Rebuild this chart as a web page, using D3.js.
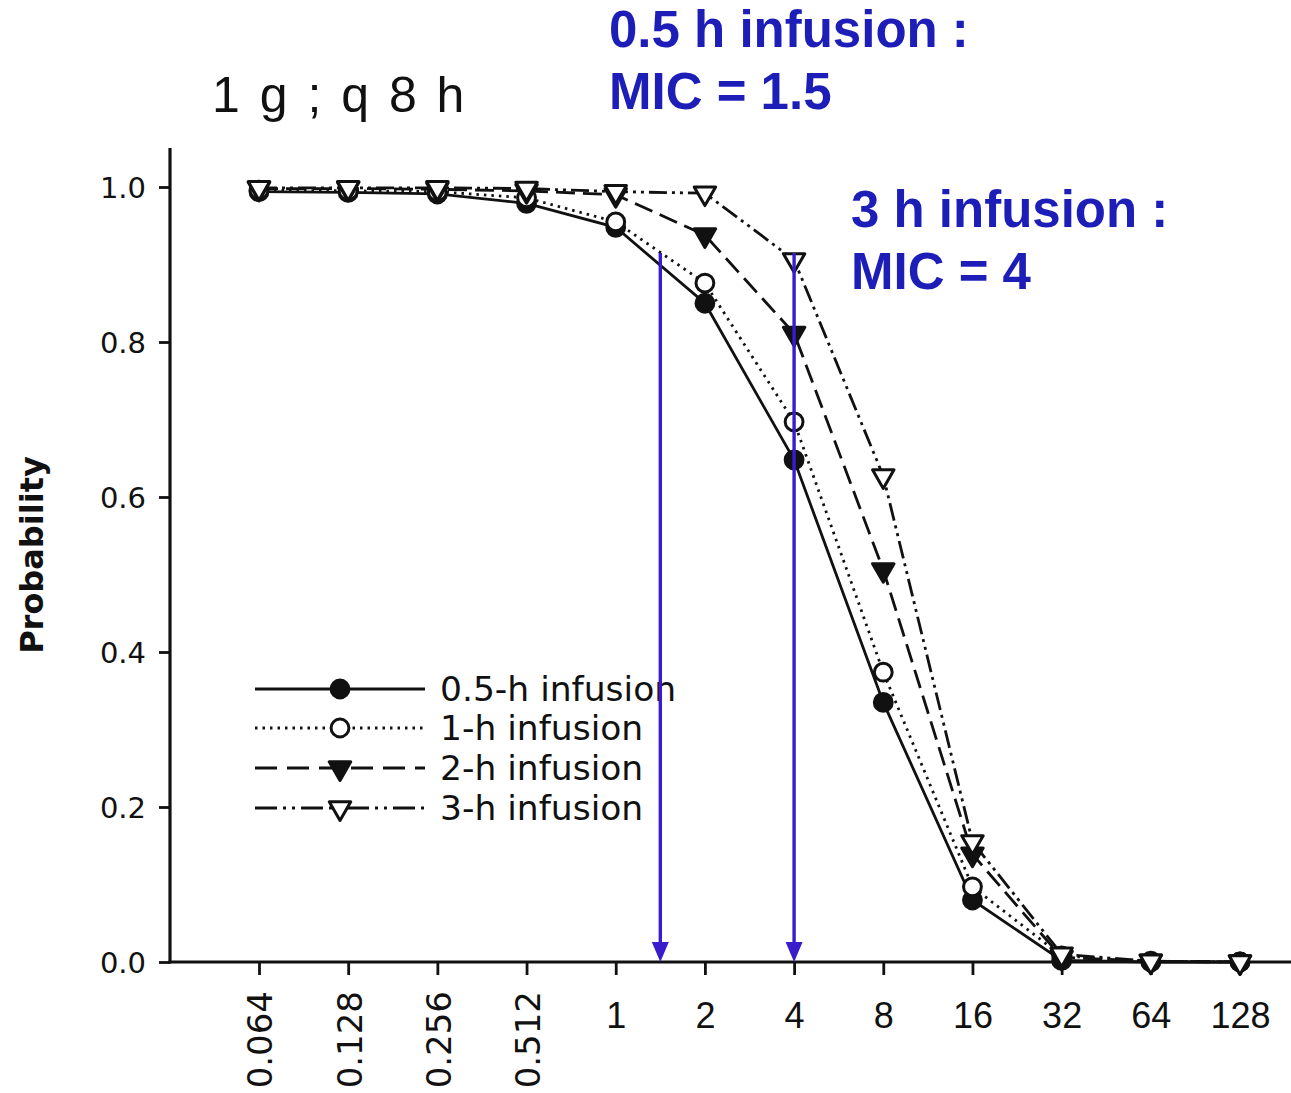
<!DOCTYPE html>
<html>
<head>
<meta charset="utf-8">
<script src="https://cdn.jsdelivr.net/npm/d3@7"></script>
<style>
  html, body { margin: 0; padding: 0; background: #fff; }
  svg { display: block; }
</style>
</head>
<body>
<svg id="chart" width="1291" height="1093"></svg>
<script>
// MIC values (mg/L) on the categorical x axis
const doses = ["0.064", "0.128", "0.256", "0.512", "1", "2", "4", "8", "16", "32", "64", "128"];

// Probability of target attainment for each infusion duration
const prob05h = [0.994, 0.993, 0.991, 0.979, 0.948, 0.850, 0.648, 0.335, 0.080, 0.002, 0.000, 0.000];
const prob1h  = [0.996, 0.995, 0.994, 0.986, 0.955, 0.876, 0.697, 0.374, 0.097, 0.008, 0.001, 0.000];
const prob2h  = [0.998, 0.998, 0.997, 0.995, 0.990, 0.938, 0.811, 0.506, 0.139, 0.006, 0.001, 0.000];
const prob3h  = [0.999, 0.999, 0.999, 0.998, 0.994, 0.992, 0.906, 0.627, 0.155, 0.010, 0.001, 0.000];

const seriesNames = ["0.5-h infusion", "1-h infusion", "2-h infusion", "3-h infusion"];
const yTicks = [0, 0.2, 0.4, 0.6, 0.8, 1.0];

// Breakpoint annotations: MIC where attainment is still reached, and arrow top
const breakpointMIC = [1.5, 4];
const breakpointTop = [0.915, 0.915];
const breakpointLines = [["0.5 h infusion :", "MIC = 1.5"], ["3 h infusion :", "MIC = 4"]];
const doseTitle = "1 g ; q 8 h";

const svg = d3.select("#chart");
const ink = "#111";
const blue = "#3a1ccc";
const textBlue = "#1d1db8";

const x = d3.scalePoint().domain(doses).range([259, 1240]);
const y = d3.scaleLinear().domain([0, 1]).range([962, 187]);

// Position of an arbitrary MIC between neighbouring category positions
function xMIC(v) {
  const nums = doses.map(Number);
  for (let i = 0; i < nums.length - 1; i++) {
    if (v >= nums[i] && v <= nums[i + 1]) {
      const t = (v - nums[i]) / (nums[i + 1] - nums[i]);
      return x(doses[i]) + t * (x(doses[i + 1]) - x(doses[i]));
    }
  }
  return x(doses[doses.length - 1]);
}

// ---- axes ----
const yAxis = d3.axisLeft(y).tickValues(yTicks).tickFormat(d3.format(".1f"))
  .tickSize(11).tickPadding(13);
const gy = svg.append("g").attr("transform", "translate(170,0)").call(yAxis);
gy.select(".domain").remove();
gy.selectAll(".tick line").attr("stroke", ink).attr("stroke-width", 2.8);
gy.selectAll(".tick text").attr("font-family", "DejaVu Sans").attr("font-size", 29)
  .attr("fill", ink).attr("dy", "0.36em");
svg.append("line").attr("x1", 170).attr("x2", 170).attr("y1", 148).attr("y2", 963.5)
  .attr("stroke", ink).attr("stroke-width", 3.2);

const xAxis = d3.axisBottom(x).tickSize(13).tickPadding(8).tickSizeOuter(0);
const gx = svg.append("g").attr("transform", "translate(0,962)").call(xAxis);
gx.select(".domain").remove();
gx.selectAll(".tick line").attr("stroke", ink).attr("stroke-width", 2.8);
gx.selectAll(".tick text").each(function (d) {
  const t = d3.select(this).attr("fill", ink);
  if (Number(d) < 1) {
    t.attr("font-family", "DejaVu Sans").attr("font-size", 34)
      .attr("text-anchor", "end").attr("transform", "rotate(-90)")
      .attr("x", -29).attr("y", 0).attr("dy", "0.38em");
  } else {
    t.attr("font-family", "Liberation Sans, Arial, sans-serif").attr("font-size", 36)
      .attr("y", 66).attr("dy", 0);
  }
});
svg.append("line").attr("x1", 168.5).attr("x2", 1291).attr("y1", 962).attr("y2", 962)
  .attr("stroke", ink).attr("stroke-width", 3.2);

// Axis title
svg.append("text").attr("transform", "translate(43,555) rotate(-90)")
  .attr("text-anchor", "middle").attr("font-family", "DejaVu Sans").attr("font-weight", "bold")
  .attr("font-size", 32).attr("fill", ink).text("Probability");

// Dose title
svg.append("text").attr("x", 212).attr("y", 112)
  .attr("font-family", "Liberation Sans, Arial, sans-serif").attr("font-size", 50)
  .attr("letter-spacing", 3).attr("fill", ink).text(doseTitle);

// ---- series ----
const symDown = d3.symbol().type(d3.symbolTriangle).size(200);
const symCircle = d3.symbol().type(d3.symbolCircle).size(250);
const styles = [
  { data: prob05h, dash: null, sym: "circle", fill: ink },
  { data: prob1h, dash: "2.5,5", sym: "circle", fill: "#fff" },
  { data: prob2h, dash: "19,8", sym: "tri", fill: ink },
  { data: prob3h, dash: "18,5,3,5,3,5", sym: "tri", fill: "#fff" }
];

function drawMarker(g, sym, fill, cx, cy) {
  if (sym === "circle") {
    g.append("path").attr("d", symCircle())
      .attr("transform", `translate(${cx},${cy})`)
      .attr("fill", fill).attr("stroke", ink).attr("stroke-width", 3);
  } else {
    g.append("path").attr("d", symDown())
      .attr("transform", `translate(${cx},${cy}) rotate(180)`)
      .attr("fill", fill).attr("stroke", ink).attr("stroke-width", 3)
      .attr("stroke-linejoin", "round");
  }
}

const line = d3.line().x((d, i) => x(doses[i])).y(d => y(d));
styles.forEach(s => {
  const g = svg.append("g");
  g.append("path").attr("d", line(s.data)).attr("fill", "none")
    .attr("stroke", ink).attr("stroke-width", 2.8)
    .attr("stroke-dasharray", s.dash);
  s.data.forEach((v, i) => drawMarker(g, s.sym, s.fill, x(doses[i]), y(v)));
});

// ---- legend ----
const legendRows = [689, 728, 768, 808];
const legendDash = [null, "2.5,5", "22,10", "22,6,3,6,3,6"];
styles.forEach((s, i) => {
  const g = svg.append("g");
  const ly = legendRows[i];
  g.append("line").attr("x1", 255).attr("x2", 425).attr("y1", ly).attr("y2", ly)
    .attr("stroke", ink).attr("stroke-width", 2.8).attr("stroke-dasharray", legendDash[i]);
  drawMarker(g, s.sym, s.fill, 340, ly);
  g.append("text").attr("x", 440).attr("y", ly + 12)
    .attr("font-family", "DejaVu Sans").attr("font-size", 34.5).attr("fill", ink)
    .text(seriesNames[i]);
});

// ---- breakpoint arrows ----
breakpointMIC.forEach((m, i) => {
  const bx = xMIC(m);
  svg.append("line").attr("x1", bx).attr("x2", bx)
    .attr("y1", y(breakpointTop[i])).attr("y2", y(0) - 10)
    .attr("stroke", blue).attr("stroke-width", 3.4);
  svg.append("path").attr("d", `M${bx - 8.5},${y(0) - 20} L${bx + 8.5},${y(0) - 20} L${bx},${y(0)} Z`)
    .attr("fill", blue);
});

// ---- breakpoint captions ----
const captionPos = [[609, 47], [851, 227]];
breakpointLines.forEach((lines, i) => {
  const t = svg.append("text").attr("font-family", "Liberation Sans, Arial, sans-serif")
    .attr("font-weight", "bold").attr("font-size", 51).attr("fill", textBlue);
  lines.forEach((ln, j) => {
    t.append("tspan").attr("x", captionPos[i][0]).attr("y", captionPos[i][1] + j * 62).text(ln);
  });
});
</script>
</body>
</html>
